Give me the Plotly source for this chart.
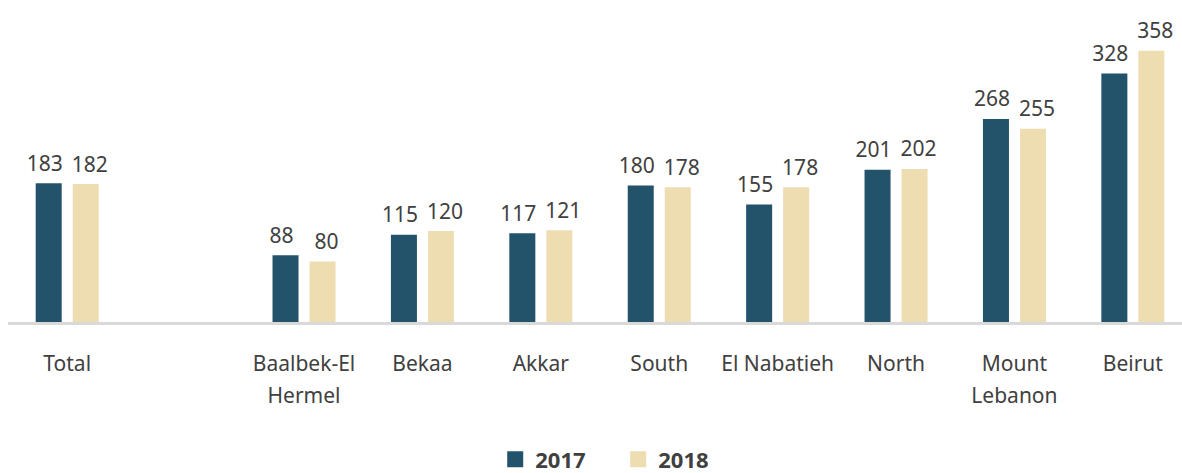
import plotly.graph_objects as go

categories = ["Total", " ", "Baalbek-El Hermel", "Bekaa", "Akkar", "South",
              "El Nabatieh", "North", "Mount Lebanon", "Beirut"]
label_line1 = ["Total", "", "Baalbek-El", "Bekaa", "Akkar", "South",
               "El Nabatieh", "North", "Mount", "Beirut"]
label_line2 = ["", "", "Hermel", "", "", "", "", "", "Lebanon", ""]
values_2017 = [183, None, 88, 115, 117, 180, 155, 201, 268, 328]
values_2018 = [182, None, 80, 120, 121, 178, 178, 202, 255, 358]
series_names = ["2017", "2018"]
colors = ["#22536B", "#EEDDB1"]

FONT = "Noto Sans"
TXT = "#404040"

fig = go.Figure()
for i, (name, vals, col) in enumerate(zip(series_names, [values_2017, values_2018], colors)):
    grp = "g%d" % i
    fig.add_trace(go.Bar(
        x=categories, y=vals, name=name, marker_color=col,
        marker_line_width=0, offsetgroup=grp,
        showlegend=False, hoverinfo="skip",
    ))
    # value labels, grouped to sit over their bars (invisible marker sets the gap)
    fig.add_trace(go.Scatter(
        x=categories, y=vals, mode="markers+text", offsetgroup=grp,
        text=[("" if v is None else str(v)) for v in vals],
        textposition="top center", cliponaxis=False,
        marker=dict(size=10, opacity=0),
        textfont=dict(family=FONT, size=21, color=TXT),
        showlegend=False, hoverinfo="skip",
    ))
    # legend-only entry with a larger square swatch
    fig.add_trace(go.Scatter(
        x=[None], y=[None], mode="markers", name=name, offsetgroup=grp,
        marker=dict(symbol="square", size=16, color=col),
        showlegend=True,
    ))

# dummy trace to register categories on the second-line label axis
fig.add_trace(go.Scatter(x=categories, y=[None] * len(categories), xaxis="x2",
                         mode="markers", showlegend=False, hoverinfo="skip"))

xr = [-0.5, 9.415]
fig.update_layout(
    width=1182, height=473,
    margin=dict(l=8, r=0, t=0, b=151, autoexpand=False),
    paper_bgcolor="white", plot_bgcolor="white",
    barmode="group", bargap=0.375, bargroupgap=0.297,
    scattermode="group", scattergap=0.24,
    font=dict(family=FONT, color=TXT),
    xaxis=dict(
        type="category", categoryorder="array", categoryarray=categories,
        range=xr, tickvals=categories, ticktext=label_line1,
        showline=True, linecolor="#D9D9D9", linewidth=3,
        showgrid=False, ticks="", ticklabelstandoff=21, automargin=False,
        tickfont=dict(family=FONT, size=21, color=TXT),
        zeroline=False,
    ),
    xaxis2=dict(
        type="category", categoryorder="array", categoryarray=categories,
        overlaying="x", side="bottom", anchor="y", range=xr,
        tickvals=categories, ticktext=label_line2, automargin=False,
        showline=False, showgrid=False, ticks="", ticklabelstandoff=59,
        tickfont=dict(family=FONT, size=21, color=TXT),
        zeroline=False,
    ),
    yaxis=dict(range=[0, 425], visible=False, showgrid=False, zeroline=False,
               automargin=False),
    legend=dict(
        orientation="h", x=0.415, xanchor="left", y=-0.362, yanchor="top",
        font=dict(family=FONT, size=22, color=TXT, weight="bold"),
        itemwidth=30, entrywidth=78, entrywidthmode="pixels",
    ),
    showlegend=True,
)

fig.write_html("out.html", config={"displayModeBar": False},
               post_script="document.body.style.margin='0';")
